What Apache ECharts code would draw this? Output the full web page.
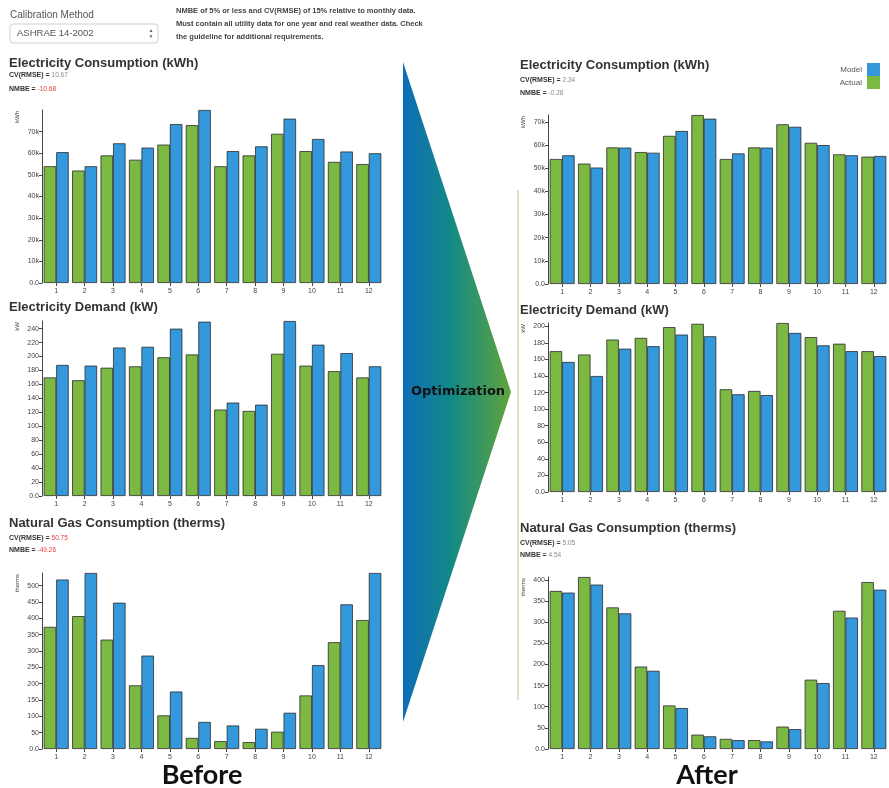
<!DOCTYPE html>
<html>
<head>
<meta charset="utf-8">
<title>Calibration before / after</title>
<script src="https://cdn.jsdelivr.net/npm/echarts@6/dist/echarts.min.js"></script>
<style>
  html, body { margin: 0; padding: 0; background: #fff; }
  #main { width: 889px; height: 788px; }
</style>
</head>
<body>
<div id="main"></div>
<script>
// months on the x axis
const months = ["1", "2", "3", "4", "5", "6", "7", "8", "9", "10", "11", "12"];

// measured (same in both halves)
const actualConsumption = [54000, 52000, 59000, 57000, 64000, 73000, 54000, 59000, 69000, 61000, 56000, 55000];
const actualDemand = [170, 166, 184, 186, 199, 203, 124, 122, 204, 187, 179, 170];
const actualGas = [374, 407, 335, 195, 103, 34, 24, 21, 53, 164, 327, 395];

// model before calibration
const beforeConsumption = [60500, 54000, 64600, 62600, 73500, 80000, 61000, 63200, 76000, 66600, 60800, 60000];
const beforeDemand = [188, 187, 213, 214, 240, 250, 134, 131, 251, 217, 205, 186];
const beforeGas = [519, 539, 448, 286, 176, 83, 72, 62, 111, 257, 443, 539];

// model after optimization
const afterConsumption = [55600, 50300, 58900, 56700, 66100, 71400, 56400, 58900, 67900, 60000, 55600, 55300];
const afterDemand = [157, 140, 173, 176, 190, 188, 118, 117, 192, 177, 170, 164];
const afterGas = [370, 389, 321, 185, 97, 30, 21, 18, 47, 156, 311, 377];

// CV(RMSE) / NMBE stats shown under titles
const beforeConsumptionStats = ["10.67", "-10.68"];
const beforeGasStats = ["50.75", "-49.26"];
const afterConsumptionStats = ["2.34", "-0.28"];
const afterGasStats = ["5.05", "4.54"];

const GREEN = "#7cb943";
const BLUE = "#3399dc";
const FONT = "Liberation Sans";

const panels = [
  { title: "Electricity Consumption (kWh)", unit: "kWh", actual: actualConsumption, model: beforeConsumption, interval: 10000, k: true, stats: beforeConsumptionStats, bad: [false, true],
    grid: { left: 42, width: 341, top: 110, height: 173 }, tx: 9, ty: 63, sy: [75, 89] },
  { title: "Electricity Demand (kW)", unit: "kW", actual: actualDemand, model: beforeDemand, interval: 20,
    grid: { left: 42, width: 341, top: 321, height: 175 }, tx: 9, ty: 307 },
  { title: "Natural Gas Consumption (therms)", unit: "therms", actual: actualGas, model: beforeGas, interval: 50, stats: beforeGasStats, bad: [true, true],
    grid: { left: 42, width: 341, top: 573, height: 176 }, tx: 9, ty: 523, sy: [538, 550] },
  { title: "Electricity Consumption (kWh)", unit: "kWh", actual: actualConsumption, model: afterConsumption, interval: 10000, k: true, stats: afterConsumptionStats, bad: [false, false],
    grid: { left: 548, width: 340, top: 115, height: 169 }, tx: 520, ty: 65, sy: [80, 93] },
  { title: "Electricity Demand (kW)", unit: "kW", actual: actualDemand, model: afterDemand, interval: 20,
    grid: { left: 548, width: 340, top: 323, height: 169 }, tx: 520, ty: 310 },
  { title: "Natural Gas Consumption (therms)", unit: "therms", actual: actualGas, model: afterGas, interval: 50, stats: afterGasStats, bad: [false, false],
    grid: { left: 548, width: 340, top: 577, height: 172 }, tx: 520, ty: 528, sy: [543, 555] },
];

const grids = [], xAxes = [], yAxes = [], series = [];
const graphics = [];

panels.forEach(function (p, i) {
  grids.push(p.grid);
  xAxes.push({
    type: "category",
    gridIndex: i,
    data: months,
    axisLine: { show: false },
    axisTick: { show: true, alignWithLabel: true, length: 3, lineStyle: { color: "#444" } },
    axisLabel: { fontSize: 7, color: "#444", margin: 5, fontFamily: FONT },
  });
  yAxes.push({
    type: "value",
    gridIndex: i,
    min: 0,
    max: "dataMax",
    interval: p.interval,
    axisLine: { show: true, lineStyle: { color: "#444" } },
    axisTick: { show: true, length: 3, lineStyle: { color: "#444" } },
    splitLine: { show: false },
    axisLabel: {
      fontSize: 7, color: "#444", margin: 3, fontFamily: FONT, showMaxLabel: false,
      formatter: function (v) {
        if (v === 0) return "0.0";
        return p.k ? v / 1000 + "k" : String(v);
      },
    },
  });
  series.push({
    name: "Actual", type: "bar", xAxisIndex: i, yAxisIndex: i, data: p.actual,
    barGap: "0%", barCategoryGap: "12%",
    itemStyle: { color: GREEN, borderColor: "#2b2b2b", borderWidth: 0.8 },
  });
  series.push({
    name: "Model", type: "bar", xAxisIndex: i, yAxisIndex: i, data: p.model,
    barGap: "0%", barCategoryGap: "12%",
    itemStyle: { color: BLUE, borderColor: "#2b2b2b", borderWidth: 0.8 },
  });

  // panel title
  graphics.push({
    type: "text", x: p.tx, y: p.ty,
    style: { text: p.title, font: "bold 13px " + FONT, fill: "#333", verticalAlign: "middle" },
  });
  // stats lines
  if (p.stats) {
    ["CV(RMSE) = ", "NMBE = "].forEach(function (lbl, j) {
      graphics.push({
        type: "text", x: p.tx, y: p.sy[j],
        style: {
          text: "{a|" + lbl + "}{" + (p.bad[j] ? "r" : "g") + "|" + p.stats[j] + "}",
          verticalAlign: "middle",
          rich: {
            a: { fontFamily: FONT, fontWeight: "bold", fontSize: 7, fill: "#333" },
            g: { fontFamily: FONT, fontSize: 6.5, fill: "#888" },
            r: { fontFamily: FONT, fontSize: 6.5, fill: "#e53a3a" },
          },
        },
      });
    });
  }
  // unit name, rotated
  graphics.push({
    type: "text", x: p.grid.left - 25, y: p.grid.top + 1, rotation: Math.PI / 2,
    style: { text: p.unit, font: "6px " + FONT, fill: "#444", align: "right", verticalAlign: "middle" },
  });
});

// header controls
graphics.push(
  { type: "text", x: 10, y: 15, style: { text: "Calibration Method", font: "10px " + FONT, fill: "#555", verticalAlign: "middle" } },
  { type: "rect", shape: { x: 10, y: 24, width: 148, height: 19, r: 3 }, style: { fill: "#fff", stroke: "#cfcfcf", lineWidth: 1 } },
  { type: "text", x: 17, y: 33.5, style: { text: "ASHRAE 14-2002", font: "9.5px " + FONT, fill: "#555", verticalAlign: "middle" } },
  { type: "text", x: 151, y: 31, style: { text: "▲", font: "5px " + FONT, fill: "#666", align: "center", verticalAlign: "middle" } },
  { type: "text", x: 151, y: 37, style: { text: "▼", font: "5px " + FONT, fill: "#666", align: "center", verticalAlign: "middle" } },
  {
    type: "text", x: 176, y: 4,
    style: {
      text: "NMBE of 5% or less and CV(RMSE) of 15% relative to monthly data.\nMust contain all utility data for one year and real weather data. Check\nthe guideline for additional requirements.",
      font: "bold 7.5px " + FONT, fill: "#444", lineHeight: 13, verticalAlign: "top",
    },
  }
);

// optimization arrow
graphics.push(
  {
    type: "polygon",
    shape: { points: [[403, 62], [403, 722], [511, 392]] },
    style: {
      fill: new echarts.graphic.LinearGradient(0, 0, 1, 0, [
        { offset: 0, color: "#0f6db8" },
        { offset: 0.45, color: "#128a86" },
        { offset: 1, color: "#62a33b" },
      ]),
    },
  },
  { type: "text", x: 458, y: 392, style: { text: "Optimization", font: "bold 13px DejaVu Sans", fill: "#111", align: "center", verticalAlign: "middle" } },
  { type: "line", shape: { x1: 518, y1: 190, x2: 518, y2: 700 }, style: { stroke: "#c5dcae", lineWidth: 1.5 } },
  { type: "text", x: 202, y: 775, style: { text: "Before", font: "bold 27px Lato", fill: "#111", align: "center", verticalAlign: "middle" } },
  { type: "text", x: 707, y: 775, style: { text: "After", font: "bold 27px Lato", fill: "#111", align: "center", verticalAlign: "middle" } }
);

const chart = echarts.init(document.getElementById("main"));
chart.setOption({
  animation: false,
  backgroundColor: "#fff",
  legend: {
    data: ["Model", "Actual"],
    orient: "vertical",
    right: 4,
    top: 58,
    align: "right",
    icon: "rect",
    itemWidth: 13,
    itemHeight: 13,
    itemGap: 0,
    itemStyle: { borderWidth: 0 },
    textStyle: { fontSize: 8, color: "#555", fontFamily: FONT },
  },
  grid: grids,
  xAxis: xAxes,
  yAxis: yAxes,
  series: series,
  graphic: graphics,
});
</script>
</body>
</html>
